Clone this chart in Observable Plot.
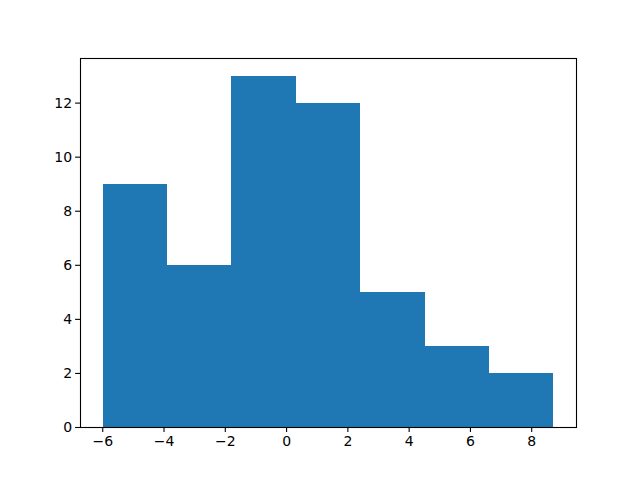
<!DOCTYPE html>
<html>
<head>
<meta charset="utf-8">
<script src="https://cdn.jsdelivr.net/npm/d3@7"></script>
<script src="https://cdn.jsdelivr.net/npm/@observablehq/plot@0.6"></script>
<style>
  html, body { margin: 0; padding: 0; background: #fff; }
</style>
</head>
<body>
<div id="chart"></div>
<script>
const binEdges = [-5.99, -3.888, -1.785, 0.317, 2.419, 4.522, 6.624, 8.726];
const counts = [9, 6, 13, 12, 5, 3, 2];
const xTicks = [-6, -4, -2, 0, 2, 4, 6, 8];
const yTicks = [0, 2, 4, 6, 8, 10, 12];

const bins = counts.map((c, i) => ({x1: binEdges[i], x2: binEdges[i + 1], y: c}));
const span = binEdges[binEdges.length - 1] - binEdges[0];
const xDomain = [binEdges[0] - 0.05 * span, binEdges[binEdges.length - 1] + 0.05 * span];
const yMax = d3.max(counts) * 1.05;
const fmt = d => String(d).replace("-", "\u2212");

const chart = Plot.plot({
  width: 640,
  height: 480,
  marginLeft: 80,
  marginRight: 64,
  marginTop: 58,
  marginBottom: 53,
  style: {fontFamily: "DejaVu Sans", fontSize: "14px", color: "black", background: "white"},
  x: {domain: xDomain},
  y: {domain: [0, yMax]},
  marks: [
    Plot.rectY(bins, {x1: "x1", x2: "x2", y: "y", fill: "#1f77b4", inset: 0, shapeRendering: "crispEdges"}),
    Plot.axisX({ticks: xTicks, tickSize: 4.9, tickPadding: 3.5, tickFormat: fmt, label: null, fontSize: 14, strokeWidth: 1.1}),
    Plot.axisY({ticks: yTicks, tickSize: 4.9, tickPadding: 3.5, tickFormat: fmt, label: null, fontSize: 14, strokeWidth: 1.1}),
    Plot.frame({stroke: "black", strokeWidth: 1.1})
  ]
});
document.getElementById("chart").appendChild(chart);
</script>
</body>
</html>
